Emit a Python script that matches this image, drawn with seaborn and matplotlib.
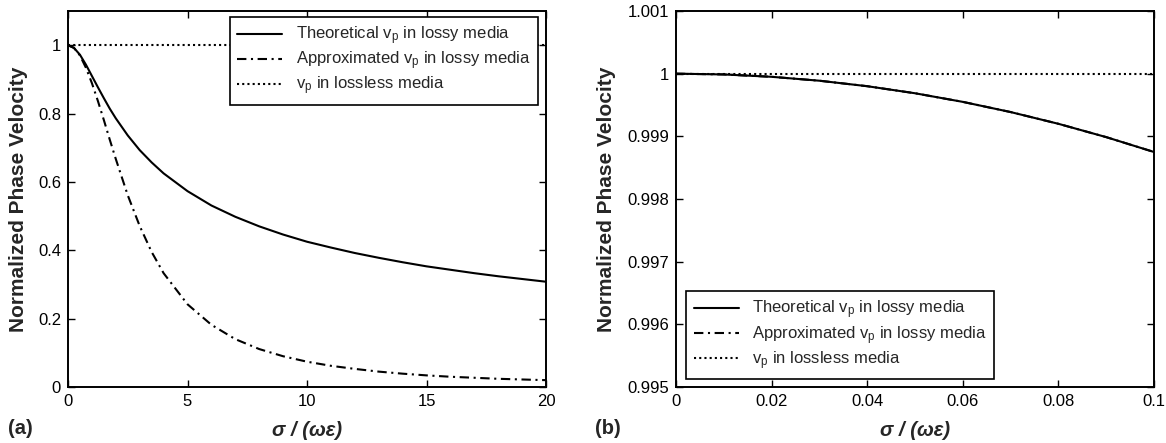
import numpy as np
import pandas as pd
import matplotlib
matplotlib.use("Agg")
import matplotlib.pyplot as plt
import seaborn as sns

# ---- data ----
# panel (a)
x_a = [0, 0.25, 0.5, 0.75, 1, 1.25, 1.5, 1.75, 2, 2.5, 3, 3.5, 4, 5, 6, 7, 8, 9, 10,
       11, 12, 13, 14, 15, 16, 17, 18, 19, 20]
theo_a = [1.0, 0.992, 0.972, 0.943, 0.910, 0.877, 0.845, 0.814, 0.786, 0.736, 0.693, 0.657,
          0.625, 0.573, 0.531, 0.498, 0.470, 0.446, 0.425, 0.408, 0.392, 0.378, 0.365,
          0.353, 0.343, 0.333, 0.324, 0.316, 0.308]
approx_a = [1.0, 0.992, 0.970, 0.934, 0.889, 0.837, 0.781, 0.723, 0.667, 0.561, 0.471, 0.395,
            0.333, 0.242, 0.182, 0.140, 0.111, 0.090, 0.074, 0.062, 0.053, 0.045, 0.039,
            0.034, 0.030, 0.027, 0.024, 0.022, 0.020]
lossless_a = [1.0] * len(x_a)

# panel (b)
x_b = [0, 0.01, 0.02, 0.03, 0.04, 0.05, 0.06, 0.07, 0.08, 0.09, 0.1]
theo_b = [1.0, 0.9999875, 0.99995, 0.9998875, 0.9998, 0.9996875, 0.99955, 0.9993875, 0.9992, 0.9989875, 0.99875]
approx_b = [1.0, 0.9999875, 0.99995, 0.9998875, 0.9998, 0.9996875, 0.99955, 0.9993875, 0.9992, 0.9989875, 0.99875]
lossless_b = [1.0] * len(x_b)

labels = ["Theoretical v$_\\mathregular{p}$ in lossy media",
          "Approximated v$_\\mathregular{p}$ in lossy media",
          "v$_\\mathregular{p}$ in lossless media"]
xticks_a = [0, 5, 10, 15, 20]
yticks_a = [0, 0.2, 0.4, 0.6, 0.8, 1]
xticks_b = [0, 0.02, 0.04, 0.06, 0.08, 0.1]
yticks_b = [0.995, 0.996, 0.997, 0.998, 0.999, 1, 1.001]

sns.set_style("ticks")
plt.rcParams["font.family"] = ["Liberation Sans", "DejaVu Sans"]
plt.rcParams["mathtext.fontset"] = "custom"
plt.rcParams["mathtext.rm"] = "Liberation Sans"
plt.rcParams["mathtext.it"] = "Liberation Sans:italic"
plt.rcParams["mathtext.bf"] = "Liberation Sans:bold"
plt.rcParams["xtick.direction"] = "in"
plt.rcParams["ytick.direction"] = "in"

W, H = 1166, 443
fig = plt.figure(figsize=(W / 100, H / 100), dpi=100)

def px_axes(l, r, t, b):
    return fig.add_axes([l / W, (H - b) / H, (r - l) / W, (b - t) / H])

ax1 = px_axes(68, 546, 11, 387)
ax2 = px_axes(676, 1154, 11, 387)

lw = 1.5
styles = [dict(ls="-"), dict(ls=(0, (4.5, 2.2, 1.0, 2.2))), dict(ls=(0, (1, 1.5)))]

def draw(ax, x, series):
    for y, lab, st in zip(series, labels, styles):
        df = pd.DataFrame({"x": x, "y": y})
        sns.lineplot(data=df, x="x", y="y", ax=ax, color="black", lw=lw,
                     label=lab, linestyle=st["ls"], estimator=None, sort=False)

draw(ax1, x_a, [theo_a, approx_a, lossless_a])
draw(ax2, x_b, [theo_b, approx_b, lossless_b])

for ax in (ax1, ax2):
    for s in ax.spines.values():
        s.set_visible(True)
        s.set_linewidth(1.4)
        s.set_color("black")
    ax.tick_params(axis="both", which="both", direction="in", top=True, right=True,
                   length=5, width=1.0, labelsize=12, colors="black", pad=5)
    ax.set_xlabel("σ / (ωε)", fontsize=14.5, fontweight="bold", style="italic", labelpad=6)
    ax.set_ylabel("Normalized Phase Velocity", fontsize=15, fontweight="bold", labelpad=6)

ax1.set_xlim(0, 20)
ax1.set_ylim(0, 1.1)
ax1.set_xticks(xticks_a)
ax1.set_yticks(yticks_a)
ax1.set_xticklabels([f"{v:g}" for v in xticks_a])
ax1.set_yticklabels([f"{v:g}" for v in yticks_a])

ax2.set_xlim(0, 0.1)
ax2.set_ylim(0.995, 1.001)
ax2.set_xticks(xticks_b)
ax2.set_yticks(yticks_b)
ax2.set_xticklabels([f"{v:g}" for v in xticks_b])
ax2.set_yticklabels([f"{v:g}" for v in yticks_b])

leg_kw = dict(fontsize=12, frameon=True, fancybox=False, framealpha=1, edgecolor="black",
              handlelength=2.7, handletextpad=0.8, borderpad=0.45, labelspacing=0.15,
              borderaxespad=0)
l1 = ax1.legend(loc="upper right", bbox_to_anchor=(0.983, 0.984), **leg_kw)
l2 = ax2.legend(loc="lower left", bbox_to_anchor=(0.021, 0.021), **leg_kw)
for lg in (l1, l2):
    lg.get_frame().set_linewidth(1.2)

ax1.yaxis.set_label_coords(-40 / 478, 0.5)
ax2.yaxis.set_label_coords(-60 / 478, 0.5)
ax1.xaxis.set_label_coords(0.5, -34 / 376)
ax2.xaxis.set_label_coords(0.5, -34 / 376)

fig.text(8 / W, 1 - 428 / H, "(a)", fontsize=14.5, fontweight="bold", va="center", ha="left")
fig.text(595 / W, 1 - 429 / H, "(b)", fontsize=14.5, fontweight="bold", va="center", ha="left")

fig.savefig("out.png", dpi=100, facecolor="white")
